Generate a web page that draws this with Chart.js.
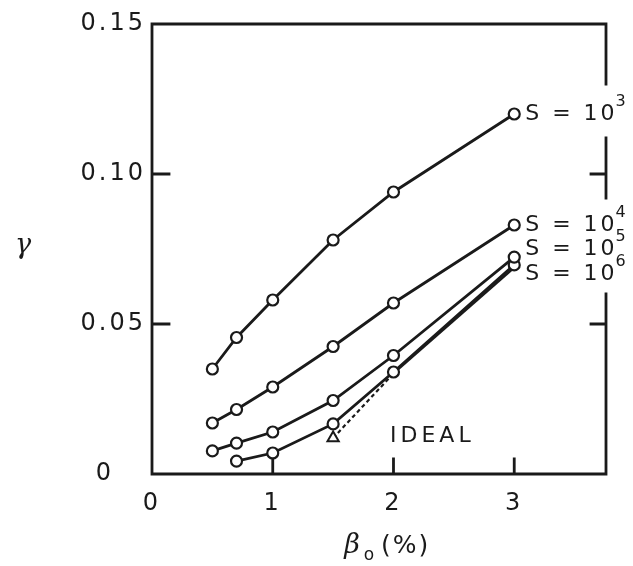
<!DOCTYPE html>
<html>
<head>
<meta charset="utf-8">
<script src="https://cdn.jsdelivr.net/npm/chart.js@4.4.1/dist/chart.umd.min.js"></script>
<style>
  body { margin: 0; background: #fff; }
  canvas { display: block; }
</style>
</head>
<body>
<canvas id="graph" width="633" height="566"></canvas>
<script>
// beta_0 (%) values and gamma for each S curve
var betaMain = [0.5, 0.7, 1, 1.5, 2, 3];
var gammaS3 = [0.035, 0.0455, 0.058, 0.078, 0.094, 0.120];
var gammaS4 = [0.017, 0.0215, 0.029, 0.0425, 0.057, 0.083];
var gammaS5 = [0.0077, 0.0103, 0.014, 0.0245, 0.0395, 0.0723];
var betaS6 = [0.7, 1, 1.5, 2, 3];
var gammaS6 = [0.0043, 0.007, 0.0167, 0.034, 0.0697];
var betaIdeal = [1.5, 2, 3];
var gammaIdeal = [0.012, 0.0335, 0.0688];

var seriesLabels = ['3', '4', '5', '6'];
var xTicks = [0, 1, 2, 3];
var yTicks = [0, 0.05, 0.10, 0.15];

var ink = '#1a1a1a';

function pts(xs, ys) {
  return xs.map(function (x, i) { return { x: x, y: ys[i] }; });
}

function curve(xs, ys, expo) {
  return {
    label: 'S = 10^' + expo,
    expo: expo,
    data: pts(xs, ys),
    borderColor: ink,
    borderWidth: 2.8,
    pointRadius: 5.5,
    pointBorderWidth: 2.2,
    pointBackgroundColor: '#fff',
    pointBorderColor: ink,
    tension: 0
  };
}

var datasets = [
  curve(betaMain, gammaS3, seriesLabels[0]),
  curve(betaMain, gammaS4, seriesLabels[1]),
  curve(betaMain, gammaS5, seriesLabels[2]),
  curve(betaS6, gammaS6, seriesLabels[3]),
  {
    label: 'IDEAL',
    data: pts(betaIdeal, gammaIdeal),
    borderColor: ink,
    borderWidth: 2.2,
    pointStyle: 'triangle',
    pointRadius: [6.5, 0, 0],
    pointBorderWidth: 2,
    pointBackgroundColor: '#fff',
    pointBorderColor: ink,
    segment: {
      borderDash: function (c) { return c.p0DataIndex === 0 ? [4, 3] : undefined; }
    }
  }
];

// wider lettering for the tick labels
var spacing = {
  id: 'spacing',
  beforeDraw: function (chart) { chart.ctx.letterSpacing = '3px'; }
};

// frame, inward ticks, curve labels and axis titles
var decor = {
  id: 'decor',
  afterDatasetsDraw: function (chart) {
    var ctx = chart.ctx, a = chart.chartArea;
    var xs = chart.scales.x, ys = chart.scales.y;
    ctx.save();
    ctx.strokeStyle = ink;
    ctx.lineWidth = 2.8;
    ctx.lineCap = 'square';
    ctx.beginPath();
    ctx.moveTo(a.right, a.top); ctx.lineTo(a.left, a.top);
    ctx.lineTo(a.left, a.bottom); ctx.lineTo(a.right, a.bottom);
    // right border broken where the curve labels sit
    [[0.15, 0.130], [0.112, 0.092], [0.060, 0]].forEach(function (s) {
      ctx.moveTo(a.right, ys.getPixelForValue(s[0]));
      ctx.lineTo(a.right, ys.getPixelForValue(s[1]));
    });
    [1, 2, 3].forEach(function (v) {
      var px = xs.getPixelForValue(v);
      ctx.moveTo(px, a.bottom); ctx.lineTo(px, a.bottom - 15);
    });
    [0.05, 0.10].forEach(function (v) {
      var py = ys.getPixelForValue(v);
      ctx.moveTo(a.left, py); ctx.lineTo(a.left + 17, py);
      ctx.moveTo(a.right, py); ctx.lineTo(a.right - 15, py);
    });
    ctx.stroke();

    ctx.fillStyle = ink;
    ctx.textBaseline = 'middle';
    ctx.textAlign = 'left';
    var offs = [0, 0, -8, 9];
    datasets.slice(0, 4).forEach(function (ds, i) {
      var last = ds.data[ds.data.length - 1];
      var px = xs.getPixelForValue(last.x) + 11;
      var py = ys.getPixelForValue(last.y) + offs[i];
      ctx.font = '22px "DejaVu Sans"';
      ctx.letterSpacing = '3px';
      ctx.fillText('S = 10', px, py);
      var w = ctx.measureText('S = 10').width;
      ctx.font = '16px "DejaVu Sans"';
      ctx.letterSpacing = '0px';
      ctx.fillText(ds.expo, px + w - 2, py - 12);
    });

    ctx.font = '22px "DejaVu Sans"';
    ctx.letterSpacing = '4px';
    ctx.fillText('IDEAL', 390, 436);
    ctx.letterSpacing = '0px';

    ctx.font = 'italic 27px "DejaVu Serif"';
    ctx.textAlign = 'center';
    ctx.fillText('\u03b3', 23, 246);
    ctx.fillText('\u03b2', 352, 546);
    ctx.font = '17px "DejaVu Sans"';
    ctx.fillText('o', 369, 556);
    ctx.font = '25px "DejaVu Sans"';
    ctx.letterSpacing = '2px';
    ctx.textAlign = 'left';
    ctx.fillText('(%)', 381, 546);
    ctx.restore();
  }
};

var tickFont = { family: 'DejaVu Sans', size: 24 };

new Chart(document.getElementById('graph').getContext('2d'), {
  type: 'line',
  data: { datasets: datasets },
  options: {
    responsive: false,
    animation: false,
    layout: { padding: { top: 24, right: 27, left: 0, bottom: 0 } },
    plugins: { legend: { display: false }, tooltip: { enabled: false } },
    scales: {
      x: {
        type: 'linear',
        min: 0,
        max: 3.76,
        grid: { display: false, drawTicks: false },
        border: { display: false },
        afterBuildTicks: function (s) {
          s.ticks = xTicks.map(function (v) { return { value: v }; });
        },
        afterFit: function (s) { s.height = 92; },
        ticks: { color: ink, font: tickFont, padding: 15, maxRotation: 0 }
      },
      y: {
        min: 0,
        max: 0.15,
        grid: { display: false, drawTicks: false },
        border: { display: false },
        afterBuildTicks: function (s) {
          s.ticks = yTicks.map(function (v) { return { value: v }; });
        },
        afterFit: function (s) { s.width = 152; },
        ticks: {
          color: ink,
          font: tickFont,
          padding: 6,
          callback: function (v) { return v === 0 ? '0   ' : v.toFixed(2); }
        }
      }
    }
  },
  plugins: [spacing, decor]
});
</script>
</body>
</html>
